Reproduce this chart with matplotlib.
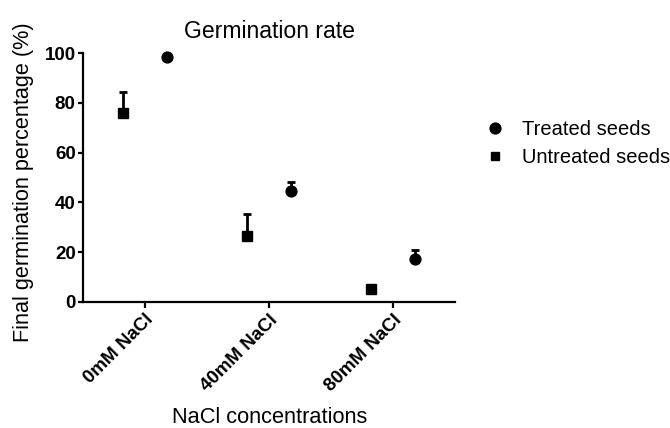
import matplotlib
matplotlib.use("Agg")
import matplotlib.pyplot as plt
from matplotlib.lines import Line2D
import numpy as np

categories = ["0mM NaCl", "40mM NaCl", "80mM NaCl"]
treated = [98.2, 44.5, 17.3]
treated_err = [0.8, 3.5, 3.6]
untreated = [75.8, 26.4, 5.2]
untreated_err = [8.6, 8.9, 0.8]
yticks = [0, 20, 40, 60, 80, 100]

plt.rcParams['font.family'] = ['Liberation Sans', 'DejaVu Sans']

W, H = 670, 428
fig = plt.figure(figsize=(W / 100, H / 100), dpi=100)
ax = fig.add_axes([83 / W, 1 - 302 / H, (455 - 83) / W, (302 - 53) / H])

x = np.arange(len(categories))
off = 0.18
lw = 1.6

ax.errorbar(x - off, untreated, yerr=[np.zeros(len(untreated)), untreated_err],
            fmt='s', color='black', ms=7.5, elinewidth=2.0, capsize=2.8, capthick=2.0,
            clip_on=False, zorder=3)
ax.errorbar(x + off, treated, yerr=[np.zeros(len(treated)), treated_err],
            fmt='o', color='black', ms=7.8, elinewidth=2.0, capsize=2.8, capthick=2.0,
            clip_on=False, zorder=3)

ax.set_xlim(-0.5, 2.5)
ax.set_ylim(0, 100)
ax.set_yticks(yticks)
ax.set_xticks(x)
ax.set_xticklabels(categories, rotation=45, ha='right', rotation_mode='anchor',
                   fontsize=13.5, fontweight='bold')
for lab in ax.get_yticklabels():
    lab.set_fontsize(13.5)
    lab.set_fontweight('bold')

for s in ['top', 'right']:
    ax.spines[s].set_visible(False)
for s in ['left', 'bottom']:
    ax.spines[s].set_linewidth(lw)
ax.tick_params(axis='x', direction='out', width=lw, length=4.5, pad=2)
ax.tick_params(axis='y', direction='out', width=lw, length=3.8, pad=1.5)

fig.text(269 / W, 1 - 38 / H, "Germination rate", fontsize=16.6,
         ha='center', va='baseline')
fig.text(24 / W, 1 - 182 / H, "Final germination percentage (%)", fontsize=15.6,
         rotation=90, ha='center', va='center')
fig.text(270 / W, 1 - 423 / H, "NaCl concentrations", fontsize=15.7,
         ha='center', va='baseline')

handles = [Line2D([], [], marker='o', ls='', color='black', ms=7.8),
           Line2D([], [], marker='s', ls='', color='black', ms=6.2)]
fig.legend(handles, ['Treated seeds', 'Untreated seeds'], loc='upper left',
           bbox_to_anchor=(485 / W, 1 - 120 / H), frameon=False, fontsize=14.5,
           handletextpad=0.85, labelspacing=0.47, handlelength=1.0,
           borderpad=0, borderaxespad=0)

fig.savefig("out.png", dpi=100)
